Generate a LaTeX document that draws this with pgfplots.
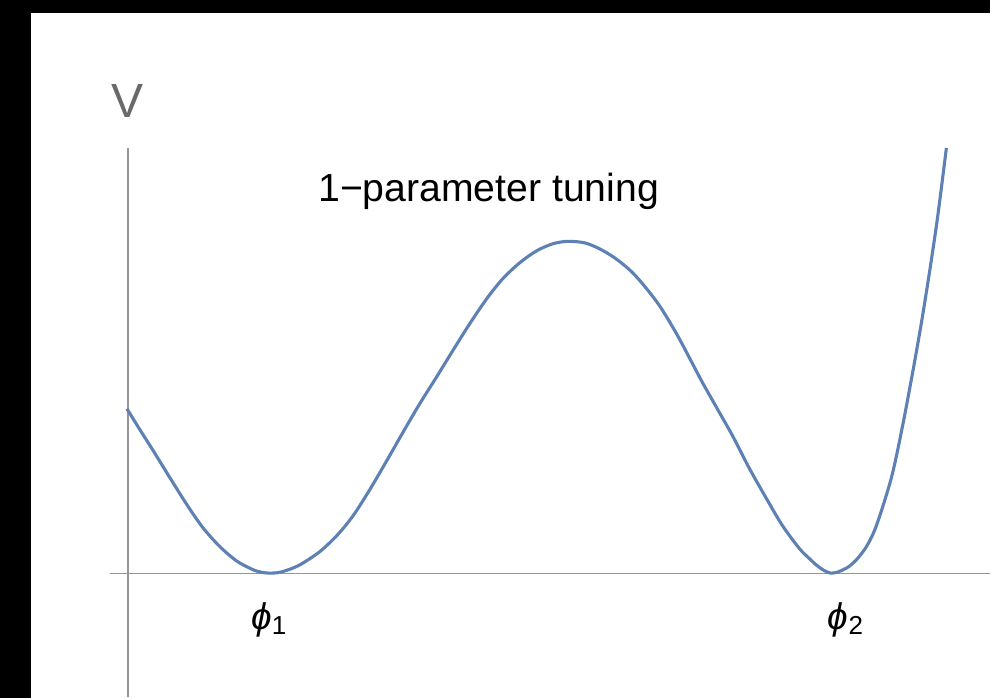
\documentclass[border=0pt]{standalone}
\usepackage{pgfplots}
\pgfplotsset{compat=1.18}
\usepackage{fontspec}
\setmainfont{Liberation Sans}
\definecolor{curveblue}{RGB}{94,129,181}
\definecolor{axisgray}{RGB}{150,150,150}
\definecolor{labelgray}{RGB}{105,105,105}

\begin{document}
\begin{tikzpicture}
\begin{axis}[
  x=0.5pt, y=0.5pt,
  xmin=0, xmax=991, ymin=0, ymax=698,
  hide axis, clip=false,
]
% frame: dark band on the left and on top, white field
\fill[black] (axis cs:0,0) rectangle (axis cs:991,698);
\fill[white] (axis cs:31,0) rectangle (axis cs:991,685);

% axes
\draw[axisgray, line width=0.65pt] (axis cs:110,124) -- (axis cs:991,124);
\draw[axisgray, line width=0.65pt] (axis cs:128,0.6) -- (axis cs:128,550);

% double-well potential
\addplot[curveblue, line width=1.55pt, smooth] coordinates {
(127,289) (140,268) (153,247.5) (170,220) (187,193) (203,170) (220,151)
(237,136.5) (253,128) (262,125.3) (270,124.5) (280,125.3) (293,129.5)
(303,134.5) (320,146) (337,162) (353,181.5) (370,208) (387,237) (403,265)
(420,294) (437,321) (453,347) (470,374) (487,399) (503,419) (520,435)
(537,447) (553,454) (568,456.5) (585,455) (600,449) (615,440) (630,428)
(643,414) (660,392) (677,364) (693,334) (703,315) (720,285) (733,262)
(750,229) (767,199) (783,172) (800,149) (810,139) (817,132.5) (824,127.5)
(831,124.5) (838,125.5) (845,128.5) (850,131.5) (858,139) (867,151)
(875,167) (883,190) (893,224) (903,271) (913,324) (922,375) (930,425)
(937,472) (942,510) (947,550)
};

% labels
\node[labelgray, font=\fontsize{24}{28}\selectfont] at (axis cs:128,597) {V};
\node[font=\fontsize{19.6}{23}\selectfont] at (axis cs:489,506) {1\char"2212 parameter tuning};
\node[font=\fontsize{18.5}{22}\selectfont\itshape] at (axis cs:269,78) {\char"03D5\raisebox{-0.25ex}{\fontsize{13}{15}\selectfont\upshape 1}};
\node[font=\fontsize{18.5}{22}\selectfont\itshape] at (axis cs:846,78) {\char"03D5\raisebox{-0.25ex}{\fontsize{13}{15}\selectfont\upshape 2}};
\end{axis}
\end{tikzpicture}
\end{document}
